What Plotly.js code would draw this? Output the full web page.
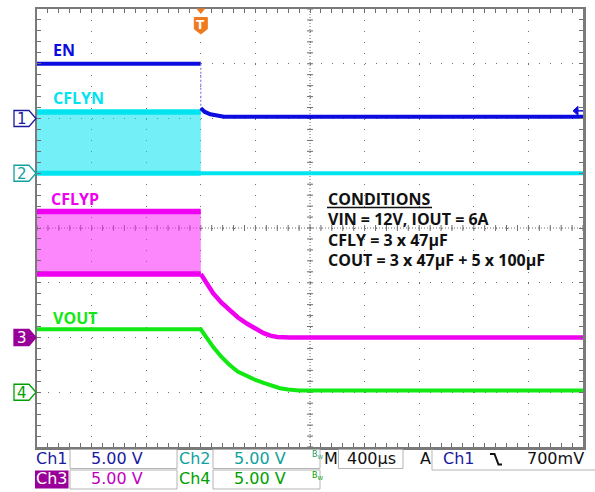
<!DOCTYPE html>
<html><head><meta charset="utf-8">
<script src="https://cdn.plot.ly/plotly-3.0.1.min.js"></script>
<style>html,body{margin:0;padding:0;background:#fff}#chart{width:595px;height:492px}</style>
</head><body><div id="chart"></div><script>
// ---------------- data (time in ms, 400 us/div; volts, 5 V/div) ----------------
const timeRange = [-1.2, 2.8];
const triggerLevelV = 0.7;               // 700 mV on Ch1, falling edge

// Ch1 : EN
const enOnT  = [-1.2, 0];
const enOnV  = [5.0, 5.0];
const enOffT = [0, 0.03, 0.07, 0.17, 0.5, 2.8];
const enOffV = [0.93, 0.6, 0.38, 0.17, 0.15, 0.15];

// Ch2 : CFLYN (switching band then off)
const cflynSwT    = [-1.2, 0];
const cflynSwHigh = [5.6, 5.6];
const cflynSwLow  = [0, 0];
const cflynOffT   = [0, 2.8];
const cflynOffV   = [0, 0];

// Ch3 : CFLYP (switching band then decay)
const cflypSwT    = [-1.2, 0];
const cflypSwHigh = [11.5, 11.5];
const cflypSwLow  = [5.8, 5.8];
const cflypOffT   = [0, 0.045, 0.09, 0.15, 0.21, 0.27, 0.34, 0.40, 0.46, 0.51, 0.56, 0.65, 2.8];
const cflypOffV   = [5.8, 4.9, 4.05, 3.2, 2.5, 1.85, 1.25, 0.78, 0.4, 0.17, 0.05, 0, 0];

// Ch4 : VOUT
const voutT = [-1.2, 0, 0.045, 0.09, 0.15, 0.21, 0.27, 0.34, 0.40, 0.46, 0.52, 0.58, 0.64, 0.72, 2.8];
const voutV = [5.75, 5.75, 4.95, 4.15, 3.25, 2.5, 1.9, 1.45, 1.12, 0.85, 0.58, 0.37, 0.25, 0.17, 0.15];

// channel vertical ranges (ground positions of the scope channels)
const chRange = {ch1: [-30, 10], ch2: [-25, 15], ch3: [-10, 30], ch4: [-5, 35]};

const traceNames = ['EN', 'CFLYN', 'CFLYP', 'VOUT'];
const conditions = ['CONDITIONS', 'VIN = 12V, IOUT = 6A', 'CFLY = 3 x 47µF', 'COUT = 3 x 47µF + 5 x 100µF'];
const chScale = ['5.00 V', '5.00 V', '5.00 V', '5.00 V'];
const timeScale = '400µs';
const trigText = '700mV';

// ---------------- geometry helpers ----------------
const W = 595, H = 492;
const M = {l: 37, r: 12, t: 9, b: 45};
const PW = W - M.l - M.r, PH = H - M.t - M.b;
const px = x => (x - M.l) / PW;
const py = y => (M.t + PH - y) / PH;
const tPix = t => M.l + PW * (t - timeRange[0]) / (timeRange[1] - timeRange[0]);
const vPix = (v, r) => M.t + PH * (1 - (v - r[0]) / (r[1] - r[0]));
const pathPx = pts => 'M' + pts.map(p => px(p[0]).toFixed(5) + ',' + py(p[1]).toFixed(5)).join('L') + 'Z';

const COL = {
  en: '#0c0ce0', cflyn: '#00e4f0', cflyp: '#f000f0', vout: '#12e812',
  ch1: '#1a1aa0', ch2: '#12a0a0', ch3: '#990099', ch3v: '#c000c0', ch4: '#00a000',
  grid: '#6e6e6e', frame: '#7a7a7a', trig: '#f07a1e'
};

// ---------------- traces ----------------
const L = (x, y, yaxis, color, width, extra) => Object.assign({
  x, y, yaxis, xaxis: 'x', type: 'scatter', mode: 'lines', hoverinfo: 'skip',
  line: {color, width}
}, extra || {});

const data = [
  // Ch4 VOUT on main axis y
  L(voutT, voutV, 'y', COL.vout, 4),
  // Ch3 CFLYP on y2
  L(cflypSwT, cflypSwLow, 'y2', COL.cflyp, 5.5),
  L(cflypSwT, cflypSwHigh, 'y2', COL.cflyp, 5.5, {fill: 'tonexty', fillcolor: 'rgba(250,40,250,0.56)'}),
  L(cflypOffT, cflypOffV, 'y2', COL.cflyp, 4.5),
  // Ch2 CFLYN on y3
  L(cflynSwT, cflynSwLow, 'y3', COL.cflyn, 5),
  L(cflynSwT, cflynSwHigh, 'y3', COL.cflyn, 5.5, {fill: 'tonexty', fillcolor: 'rgba(0,226,240,0.55)'}),
  L(cflynOffT, cflynOffV, 'y3', COL.cflyn, 4),
  // Ch1 EN on y4
  L(enOnT, enOnV, 'y4', COL.en, 4),
  L([enOnT[enOnT.length - 1], enOffT[0]], [enOnV[enOnV.length - 1], enOffV[0]], 'y4', '#7c7cf4', 1.2, {line: {color: '#7c7cf4', width: 1.2, dash: '2px,2px'}}),
  L(enOffT, enOffV, 'y4', COL.en, 4)
];

// ---------------- shapes / annotations ----------------
const shapes = [], annotations = [];
const ann = (x, y, text, font, extra) => annotations.push(Object.assign({
  xref: 'paper', yref: 'paper', x: px(x), y: py(y), text, showarrow: false,
  xanchor: 'left', yanchor: 'middle', font
}, extra || {}));

// center cross (dense dotted) with minor ticks
shapes.push({type: 'line', xref: 'paper', yref: 'paper', x0: 0, x1: 1, y0: 0.5, y1: 0.5, layer: 'below', line: {color: COL.grid, width: 1, dash: '1px,2px'}});
shapes.push({type: 'line', xref: 'paper', yref: 'paper', x0: 0.5, x1: 0.5, y0: 0, y1: 1, layer: 'below', line: {color: COL.grid, width: 1, dash: '1px,2px'}});
for (let i = 0; i <= 50; i++) {
  shapes.push({type: 'line', xref: 'paper', yref: 'paper', x0: i / 50, x1: i / 50, y0: 0.5 - 3 / PH, y1: 0.5 + 3 / PH, layer: 'below', line: {color: COL.grid, width: 1}});
}
for (let j = 0; j <= 40; j++) {
  shapes.push({type: 'line', xref: 'paper', yref: 'paper', y0: j / 40, y1: j / 40, x0: 0.5 - 3 / PW, x1: 0.5 + 3 / PW, layer: 'below', line: {color: COL.grid, width: 1}});
}

// trace labels
const lblFont = (c) => ({family: 'Open Sans', size: 16, weight: 700, color: c});
ann(51, 49.5, traceNames[0], lblFont(COL.en));
ann(51, 98, traceNames[1], lblFont(COL.cflyn));
ann(49, 199.5, traceNames[2], lblFont(COL.cflyp));
ann(51, 318, traceNames[3], lblFont(COL.vout));

// conditions block
const condY = [198.5, 219, 239.5, 260];
conditions.forEach((c, i) => ann(326, condY[i], c, lblFont('#111')));
shapes.push({type: 'line', xref: 'paper', yref: 'paper', x0: px(327), x1: px(432), y0: py(207.5), y1: py(207.5), line: {color: '#111', width: 1.5}});

// trigger position marker (top)
const tx = tPix(0);
shapes.push({type: 'path', xref: 'paper', yref: 'paper', path: pathPx([[tx - 4.5, 8.5], [tx + 4.5, 8.5], [tx, 14]]), fillcolor: COL.trig, line: {width: 0}});
shapes.push({type: 'path', xref: 'paper', yref: 'paper', path: pathPx([[tx - 6.5, 17.5], [tx + 6.5, 17.5], [tx + 6.5, 29], [tx, 34], [tx - 6.5, 29]]), fillcolor: COL.trig, line: {color: COL.trig, width: 1}});
ann(tx, 25, 'T', {family: 'DejaVu Sans', size: 12, weight: 700, color: '#fff'}, {xanchor: 'center'});

// trigger level marker (right edge, Ch1)
const tly = vPix(triggerLevelV, chRange.ch1);
shapes.push({type: 'path', xref: 'paper', yref: 'paper', path: pathPx([[573, tly], [578, tly - 4.5], [578, tly + 4.5]]), fillcolor: COL.en, line: {color: COL.en, width: 1}});
shapes.push({type: 'line', xref: 'paper', yref: 'paper', x0: px(577), x1: px(583), y0: py(tly), y1: py(tly), line: {color: COL.en, width: 1.5}});

// channel ground markers (left)
function chanMarker(g, stroke, fill, textColor, label) {
  shapes.push({type: 'path', xref: 'paper', yref: 'paper',
    path: pathPx([[14, g - 8], [29, g - 8], [36, g], [29, g + 8], [14, g + 8]]),
    line: {color: stroke, width: 1.3}, fillcolor: fill});
  ann(21.5, g + 0.5, label, {family: 'DejaVu Sans', size: 15, color: textColor}, {xanchor: 'center'});
}
chanMarker(vPix(0, chRange.ch1), COL.ch1, '#fff', COL.ch1, '1');
chanMarker(vPix(0, chRange.ch2), COL.ch2, '#fff', COL.ch2, '2');
chanMarker(vPix(0, chRange.ch3), COL.ch3, COL.ch3, '#fff', '3');
chanMarker(vPix(0, chRange.ch4), COL.ch4, '#fff', COL.ch4, '4');

// status bar
const box = (x0, y0, x1, y1, fill) => shapes.push({type: 'rect', xref: 'paper', yref: 'paper',
  x0: px(x0), x1: px(x1), y0: py(y1), y1: py(y0), line: {color: '#b4b4b4', width: 1}, fillcolor: fill || 'rgba(0,0,0,0)'});
const sFont = (c) => ({family: 'DejaVu Sans', size: 16, color: c});
const r1 = 458.5, r2 = 478.5;
box(70, 449.5, 177, 468.5); box(213, 449.5, 320, 468.5);
box(70, 470, 177, 489); box(213, 470, 320, 489);
box(338.5, 449.5, 403, 468.5);
shapes.push({type: 'path', xref: 'paper', yref: 'paper', path: 'M' + px(432) + ',' + py(449) + 'L' + px(432) + ',' + py(470) + 'L' + px(595) + ',' + py(470), line: {color: '#b4b4b4', width: 1}});
shapes.push({type: 'rect', xref: 'paper', yref: 'paper', x0: px(35), x1: px(68.5), y0: py(488.5), y1: py(470.5), fillcolor: COL.ch3, line: {width: 0}});

ann(34, r1, 'Ch1', sFont(COL.ch1));
ann(116.5, r1, chScale[0], sFont(COL.ch1), {xanchor: 'center'});
ann(177, r1, 'Ch2', sFont(COL.ch2));
ann(260, r1, chScale[1], sFont(COL.ch2), {xanchor: 'center'});
ann(34, r2, 'Ch3', sFont('#fff'));
ann(116.5, r2, chScale[2], sFont(COL.ch3v), {xanchor: 'center'});
ann(177, r2, 'Ch4', sFont(COL.ch4));
ann(260, r2, chScale[3], sFont(COL.ch4), {xanchor: 'center'});
ann(318.5, 455, 'B<sub>W</sub>', {family: 'DejaVu Sans', size: 8, color: '#1a9a6a'}, {xanchor: 'center'});
ann(318.5, 476, 'B<sub>W</sub>', {family: 'DejaVu Sans', size: 8, color: COL.ch4}, {xanchor: 'center'});
ann(322, r1, 'M', sFont('#111'));
ann(371, r1, timeScale, sFont('#111'), {xanchor: 'center'});
ann(418, r1, 'A', sFont('#111'));
ann(441, r1, 'Ch1', sFont(COL.ch1));
shapes.push({type: 'path', xref: 'paper', yref: 'paper',
  path: 'M' + px(490) + ',' + py(454) + 'L' + px(494.5) + ',' + py(454) + 'L' + px(498.5) + ',' + py(464.5) + 'L' + px(502) + ',' + py(464.5),
  line: {color: '#111', width: 2}});
ann(555, r1, trigText, sFont('#111'), {xanchor: 'center'});

// ---------------- layout ----------------
const hidden = (r) => ({range: r, overlaying: 'y', visible: false, fixedrange: true});
const layout = {
  width: W, height: H, margin: M,
  paper_bgcolor: '#fff', plot_bgcolor: '#fff', showlegend: false, hovermode: false,
  xaxis: {
    range: timeRange, dtick: 0.4, tick0: 0, fixedrange: true, zeroline: false,
    showticklabels: false, showgrid: true, gridcolor: COL.grid, gridwidth: 1, griddash: '1px,' + (PH / 40 - 1).toFixed(3) + 'px',
    ticks: 'inside', ticklen: 4, tickcolor: COL.grid, tickwidth: 1,
    minor: {dtick: 0.08, ticks: 'inside', ticklen: 4, tickcolor: COL.grid, tickwidth: 1, showgrid: false},
    showline: true, linecolor: COL.frame, linewidth: 2.5, mirror: 'ticks'
  },
  yaxis: {
    range: chRange.ch4, dtick: 5, tick0: 0, fixedrange: true, zeroline: false,
    showticklabels: false, showgrid: true, gridcolor: COL.grid, gridwidth: 1, griddash: '1px,' + (PW / 50 - 1).toFixed(3) + 'px',
    ticks: 'inside', ticklen: 4, tickcolor: COL.grid, tickwidth: 1,
    minor: {dtick: 1, ticks: 'inside', ticklen: 4, tickcolor: COL.grid, tickwidth: 1, showgrid: false},
    showline: true, linecolor: COL.frame, linewidth: 2.5, mirror: 'ticks'
  },
  yaxis2: hidden(chRange.ch3),
  yaxis3: hidden(chRange.ch2),
  yaxis4: hidden(chRange.ch1),
  shapes, annotations
};

Plotly.newPlot('chart', data, layout, {staticPlot: true, displayModeBar: false});
</script></body></html>
